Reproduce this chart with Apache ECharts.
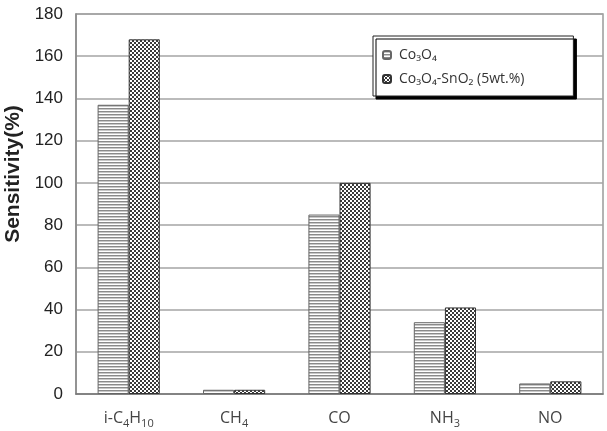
<!DOCTYPE html>
<html>
<head>
<meta charset="utf-8">
<script src="https://cdn.jsdelivr.net/npm/echarts@6/dist/echarts.min.js"></script>
<style>
html,body{margin:0;padding:0;background:#fff;}
#chart{width:607px;height:431px;}
</style>
</head>
<body>
<div id="chart"></div>
<script>
const categories = ['i-C₄H₁₀', 'CH₄', 'CO', 'NH₃', 'NO'];
const seriesNames = ['Co₃O₄', 'Co₃O₄-SnO₂ (5wt.%)'];
const co3o4 = [137, 2, 85, 34, 5];
const co3o4sno2 = [168, 2, 100, 41, 6];
const yTicks = { min: 0, max: 180, interval: 20 };

const SUBS = '₀₁₂₃₄₅₆₇₈₉';
function toRich(label) {
  let out = '', buf = '', inSub = false;
  const flush = () => {
    if (!buf) return;
    out += inSub ? '{s|' + buf + '}' : '{n|' + buf + '}';
    buf = '';
  };
  for (const ch of label) {
    const i = SUBS.indexOf(ch);
    const sub = i >= 0;
    if (sub !== inSub) { flush(); inSub = sub; }
    buf += sub ? String(i) : ch;
  }
  flush();
  return out;
}

function stripePattern() {
  const c = document.createElement('canvas');
  c.width = 4; c.height = 3;
  const g = c.getContext('2d');
  g.fillStyle = '#ffffff'; g.fillRect(0, 0, 4, 3);
  g.fillStyle = '#8a8a8a'; g.fillRect(0, 0, 4, 1);
  g.fillStyle = '#c8c8c8'; g.fillRect(0, 1, 4, 1);
  return c;
}
function checkerPattern() {
  const c = document.createElement('canvas');
  c.width = 4; c.height = 4;
  const g = c.getContext('2d');
  g.fillStyle = '#ffffff'; g.fillRect(0, 0, 4, 4);
  g.fillStyle = '#3a3a3a';
  g.fillRect(0, 0, 2, 2);
  g.fillRect(2, 2, 2, 2);
  return c;
}

const chart = echarts.init(document.getElementById('chart'), null, { renderer: 'canvas' });
chart.setOption({
  animation: false,
  backgroundColor: '#ffffff',
  grid: {
    left: 76, right: 4, top: 14, bottom: 37,
    containLabel: false,
    outerBoundsMode: 'none',
    show: true, borderColor: '#9a9a9a', borderWidth: 1.5, backgroundColor: 'transparent'
  },
  legend: {
    orient: 'vertical',
    left: 373, top: 36,
    padding: [12, 49, 10, 9],
    itemGap: 10,
    itemWidth: 8, itemHeight: 8,
    backgroundColor: '#ffffff',
    borderColor: '#222', borderWidth: 1,
    shadowColor: '#000', shadowOffsetX: 3, shadowOffsetY: 3, shadowBlur: 0,
    textStyle: { fontFamily: 'Open Sans', fontSize: 14, color: '#333', padding: [0, 0, 0, 3] },
    data: seriesNames
  },
  xAxis: {
    type: 'category',
    data: categories,
    boundaryGap: true,
    axisLine: { lineStyle: { color: '#777', width: 1.5 } },
    axisTick: { inside: true, length: 5, lineStyle: { color: '#888' } },
    axisLabel: {
      interval: 0,
      hideOverlap: false,
      margin: 13,
      formatter: (v) => toRich(v),
      rich: {
        n: { fontFamily: 'Open Sans', fontSize: 16, color: '#444', lineHeight: 22, verticalAlign: 'middle' },
        s: { fontFamily: 'Open Sans', fontSize: 11, color: '#444', lineHeight: 22, verticalAlign: 'bottom' }
      }
    }
  },
  yAxis: {
    type: 'value',
    min: yTicks.min, max: yTicks.max, interval: yTicks.interval,
    name: 'Sensitivity(%)',
    nameLocation: 'middle',
    nameRotate: 90,
    nameGap: 50,
    nameTextStyle: { fontFamily: 'Liberation Sans', fontSize: 21, fontWeight: 'bold', color: '#222', padding: [0, 0, 0, 60] },
    axisLine: { show: true, lineStyle: { color: '#888', width: 1.5 } },
    axisTick: { show: false },
    axisLabel: { fontFamily: 'Liberation Sans', fontSize: 17, color: '#222', margin: 13 },
    splitLine: { lineStyle: { color: '#a5a5a5', width: 1.5 } }
  },
  series: [
    {
      name: seriesNames[0], type: 'bar', data: co3o4,
      barGap: '0%', barCategoryGap: '41%',
      itemStyle: { color: { image: stripePattern(), repeat: 'repeat' }, borderColor: '#666', borderWidth: 1 }
    },
    {
      name: seriesNames[1], type: 'bar', data: co3o4sno2,
      barGap: '0%', barCategoryGap: '41%',
      itemStyle: { color: { image: checkerPattern(), repeat: 'repeat' }, borderColor: '#333', borderWidth: 1 }
    }
  ]
});
</script>
</body>
</html>
